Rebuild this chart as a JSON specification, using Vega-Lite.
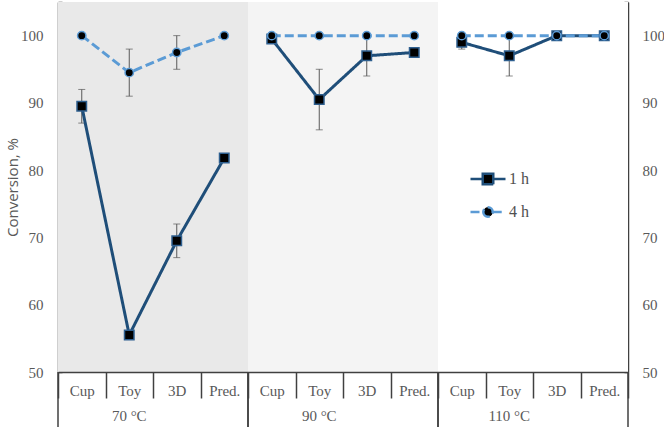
{
  "$schema": "https://vega.github.io/schema/vega-lite/v6.json",
  "width": 570,
  "height": 370,
  "autosize": {"type": "none"},
  "padding": {"left": 58, "top": 2, "right": 36, "bottom": 55},
  "background": "white",
  "config": {"view": {"stroke": null}, "axis": {"grid": false}},
  "datasets": {
    "main": [
      {"group": "70 °C", "cat": "70 °C|Cup", "series": "1 h", "value": 89.5, "lo": 87, "hi": 92},
      {"group": "70 °C", "cat": "70 °C|Toy", "series": "1 h", "value": 55.5},
      {"group": "70 °C", "cat": "70 °C|3D", "series": "1 h", "value": 69.5, "lo": 67, "hi": 72},
      {"group": "70 °C", "cat": "70 °C|Pred.", "series": "1 h", "value": 81.8},
      {"group": "90 °C", "cat": "90 °C|Cup", "series": "1 h", "value": 99.5},
      {"group": "90 °C", "cat": "90 °C|Toy", "series": "1 h", "value": 90.5, "lo": 86, "hi": 95},
      {"group": "90 °C", "cat": "90 °C|3D", "series": "1 h", "value": 97, "lo": 94, "hi": 100},
      {"group": "90 °C", "cat": "90 °C|Pred.", "series": "1 h", "value": 97.5},
      {"group": "110 °C", "cat": "110 °C|Cup", "series": "1 h", "value": 99, "lo": 98, "hi": 100},
      {"group": "110 °C", "cat": "110 °C|Toy", "series": "1 h", "value": 97, "lo": 94, "hi": 100},
      {"group": "110 °C", "cat": "110 °C|3D", "series": "1 h", "value": 100},
      {"group": "110 °C", "cat": "110 °C|Pred.", "series": "1 h", "value": 100},
      {"group": "70 °C", "cat": "70 °C|Cup", "series": "4 h", "value": 100},
      {"group": "70 °C", "cat": "70 °C|Toy", "series": "4 h", "value": 94.5, "lo": 91, "hi": 98},
      {"group": "70 °C", "cat": "70 °C|3D", "series": "4 h", "value": 97.5, "lo": 95, "hi": 100},
      {"group": "70 °C", "cat": "70 °C|Pred.", "series": "4 h", "value": 100},
      {"group": "90 °C", "cat": "90 °C|Cup", "series": "4 h", "value": 100},
      {"group": "90 °C", "cat": "90 °C|Toy", "series": "4 h", "value": 100},
      {"group": "90 °C", "cat": "90 °C|3D", "series": "4 h", "value": 100},
      {"group": "90 °C", "cat": "90 °C|Pred.", "series": "4 h", "value": 100},
      {"group": "110 °C", "cat": "110 °C|Cup", "series": "4 h", "value": 100},
      {"group": "110 °C", "cat": "110 °C|Toy", "series": "4 h", "value": 100},
      {"group": "110 °C", "cat": "110 °C|3D", "series": "4 h", "value": 100},
      {"group": "110 °C", "cat": "110 °C|Pred.", "series": "4 h", "value": 100}
    ],
    "groups": [
      {"group": "70 °C", "first": "70 °C|Cup", "last": "70 °C|Pred."},
      {"group": "90 °C", "first": "90 °C|Cup", "last": "90 °C|Pred."},
      {"group": "110 °C", "first": "110 °C|Cup", "last": "110 °C|Pred."}
    ]
  },
  "resolve": {"axis": {"x": "independent", "y": "independent"}},
  "layer": [
    {
      "data": {"name": "main"},
      "transform": [{"filter": "datum.value > 1000"}],
      "mark": {"type": "point", "filled": false, "fill": "#000000", "strokeWidth": 2.5, "opacity": 1},
      "encoding": {
        "color": {
          "field": "series", "type": "nominal",
          "scale": {"domain": ["1 h", "4 h"], "range": ["#1f4e79", "#5b9bd5"]},
          "legend": {
            "orient": "none", "legendX": 411, "legendY": 158, "title": null, "direction": "vertical",
            "symbolSize": 1225, "symbolStrokeWidth": 2.5, "symbolFillColor": "#000000", "labelFont": "Liberation Serif", "labelFontSize": 16,
            "labelColor": "#505050", "labelOffset": 2, "rowPadding": 3
          }
        },
        "shape": {
          "field": "series", "type": "nominal",
          "scale": {"domain": ["1 h", "4 h"], "range": ["M-1,0H-0.3M0.3,0H1M-0.3,-0.3H0.3V0.3H-0.3Z", "M-1,0H-0.27M0.27,0H1M-0.27,0A0.27,0.27 0 1,0 0.27,0A0.27,0.27 0 1,0 -0.27,0Z"]}
        },
        "strokeDash": {"field": "series", "type": "nominal", "scale": {"domain": ["1 h", "4 h"], "range": [[1, 0], [9, 4]]}}
      }
    },
    {
      "data": {"name": "groups"},
      "mark": {"type": "rect"},
      "encoding": {
        "x": {
          "field": "first", "type": "nominal", "bandPosition": 0,
          "scale": {"domain": ["70 °C|Cup", "70 °C|Toy", "70 °C|3D", "70 °C|Pred.", "90 °C|Cup", "90 °C|Toy", "90 °C|3D", "90 °C|Pred.", "110 °C|Cup", "110 °C|Toy", "110 °C|3D", "110 °C|Pred."], "paddingInner": 0, "paddingOuter": 0},
          "axis": {
            "orient": "bottom", "title": null, "tickBand": "extent", "tickSize": 26,
            "tickColor": "#404040", "tickWidth": 1.5, "domainColor": "#404040", "domainWidth": 1.5,
            "labelExpr": "split(datum.label, '|')[1]", "labelAngle": 0, "labelBaseline": "middle",
            "labelPadding": -8, "labelFont": "Liberation Serif", "labelFontSize": 15, "labelColor": "#595959"
          }
        },
        "x2": {"field": "last", "bandPosition": 1},
        "y": {
          "datum": 105, "type": "quantitative",
          "scale": {"domain": [50, 105], "nice": false, "zero": false},
          "axis": {
            "orient": "left", "title": "Conversion, %",
            "values": [50, 55, 60, 65, 70, 75, 80, 85, 90, 95, 100, 105],
            "labelExpr": "datum.value % 10 === 0 ? datum.label : ''",
            "tickSize": -4, "tickColor": "#404040", "tickWidth": 1.5,
            "domainColor": "#404040", "domainWidth": 1.5,
            "labelPadding": 19, "labelFont": "Liberation Serif", "labelFontSize": 15, "labelColor": "#595959",
            "titleFont": "Open Sans", "titleFontSize": 15, "titleFontWeight": "normal", "titleColor": "#595959", "titlePadding": 0
          }
        },
        "y2": {"datum": 50},
        "fill": {"field": "group", "type": "nominal", "scale": {"domain": ["70 °C", "90 °C", "110 °C"], "range": ["#e9e9e9", "#f4f4f4", "#ffffff"]}, "legend": null}
      }
    },
    {
      "data": {"name": "groups"},
      "mark": {"type": "rule", "color": "#404040", "strokeWidth": 1.5},
      "encoding": {
        "x": {
          "field": "first", "type": "nominal", "bandPosition": 0,
          "scale": {"domain": ["70 °C|Cup", "70 °C|Toy", "70 °C|3D", "70 °C|Pred.", "90 °C|Cup", "90 °C|Toy", "90 °C|3D", "90 °C|Pred.", "110 °C|Cup", "110 °C|Toy", "110 °C|3D", "110 °C|Pred."], "paddingInner": 0, "paddingOuter": 0},
          "axis": {
            "orient": "bottom", "title": null, "bandPosition": 1, "ticks": false, "domain": false,
            "labelExpr": "indexof(datum.label, 'Toy') >= 0 ? split(datum.label, '|')[0] : ''",
            "labelAngle": 0, "labelBaseline": "middle", "labelPadding": 43,
            "labelFont": "Liberation Serif", "labelFontSize": 15, "labelColor": "#595959"
          }
        },
        "y": {"datum": 50, "type": "quantitative", "axis": null},
        "y2": {"datum": 41}
      }
    },
    {
      "data": {"name": "groups"},
      "mark": {"type": "rule", "color": "#404040", "strokeWidth": 1.5},
      "encoding": {
        "x": {"field": "last", "type": "nominal", "bandPosition": 1, "axis": null},
        "y": {
          "datum": 50, "type": "quantitative",
          "axis": {
            "orient": "right", "title": null,
            "values": [50, 55, 60, 65, 70, 75, 80, 85, 90, 95, 100, 105],
            "labelExpr": "datum.value % 10 === 0 ? datum.label : ''",
            "tickSize": -4, "tickColor": "#404040", "tickWidth": 1.5,
            "domainColor": "#404040", "domainWidth": 1.5,
            "labelPadding": 18, "labelFont": "Liberation Serif", "labelFontSize": 15, "labelColor": "#595959"
          }
        },
        "y2": {"datum": 41}
      }
    },
    {
      "data": {"name": "main"},
      "transform": [{"filter": "isValid(datum.lo)"}],
      "mark": {"type": "rule", "color": "#595959", "strokeWidth": 1},
      "encoding": {
        "x": {"field": "cat", "type": "nominal", "axis": null},
        "y": {"field": "lo", "type": "quantitative", "axis": null},
        "y2": {"field": "hi"}
      }
    },
    {
      "data": {"name": "main"},
      "transform": [{"filter": "isValid(datum.lo)"}],
      "mark": {"type": "tick", "color": "#595959", "thickness": 1, "size": 7, "orient": "horizontal"},
      "encoding": {
        "x": {"field": "cat", "type": "nominal", "axis": null},
        "y": {"field": "lo", "type": "quantitative", "axis": null}
      }
    },
    {
      "data": {"name": "main"},
      "transform": [{"filter": "isValid(datum.lo)"}],
      "mark": {"type": "tick", "color": "#595959", "thickness": 1, "size": 7, "orient": "horizontal"},
      "encoding": {
        "x": {"field": "cat", "type": "nominal", "axis": null},
        "y": {"field": "hi", "type": "quantitative", "axis": null}
      }
    },
    {
      "data": {"name": "main"},
      "mark": {"type": "line", "strokeWidth": 3},
      "encoding": {
        "x": {"field": "cat", "type": "nominal", "axis": null},
        "y": {"field": "value", "type": "quantitative", "axis": null},
        "color": {"field": "series", "type": "nominal", "scale": {"domain": ["1 h", "4 h"], "range": ["#1f4e79", "#5b9bd5"]}, "legend": null},
        "strokeDash": {"field": "series", "type": "nominal", "scale": {"domain": ["1 h", "4 h"], "range": [[1, 0], [9, 4]]}, "legend": null},
        "detail": {"field": "group"}
      }
    },
    {
      "data": {"name": "main"},
      "transform": [{"filter": "datum.series === '1 h'"}],
      "mark": {"type": "point", "shape": "square", "size": 90, "filled": true, "fill": "#000000", "stroke": "#2e5f8f", "strokeWidth": 1.5, "opacity": 1},
      "encoding": {
        "x": {"field": "cat", "type": "nominal", "axis": null},
        "y": {"field": "value", "type": "quantitative", "axis": null}
      }
    },
    {
      "data": {"name": "main"},
      "transform": [{"filter": "datum.series === '4 h'"}],
      "mark": {"type": "point", "shape": "circle", "size": 70, "filled": true, "fill": "#000000", "stroke": "#5b9bd5", "strokeWidth": 1.5, "opacity": 1},
      "encoding": {
        "x": {"field": "cat", "type": "nominal", "axis": null},
        "y": {"field": "value", "type": "quantitative", "axis": null}
      }
    }
  ]
}
